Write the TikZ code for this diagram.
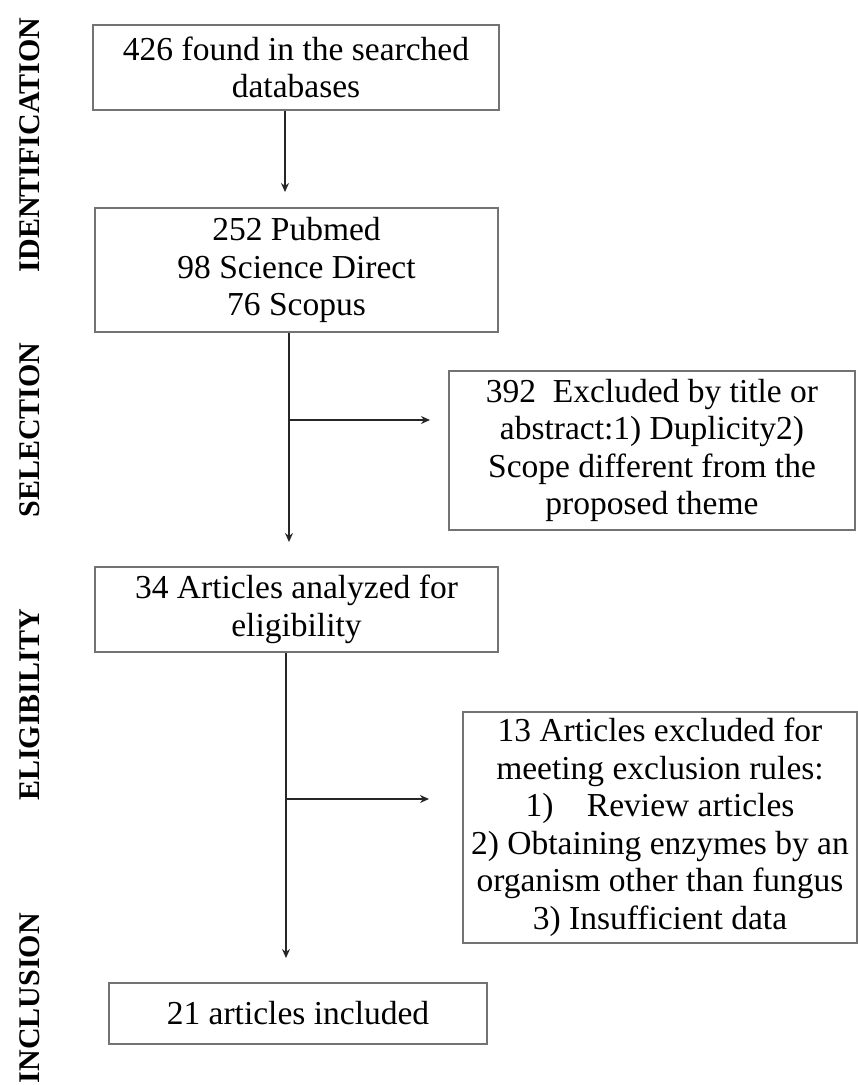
\documentclass[tikz,border=0pt]{standalone}
\usepackage{fontspec}
\setmainfont{Liberation Serif}
\usetikzlibrary{arrows.meta}
\begin{document}
\begin{tikzpicture}[x=1pt,y=-1pt,
  box/.style={draw=black!55,line width=1.3pt,align=center,inner sep=0pt,font=\fontsize{33.5}{37.5}\selectfont},
  stage/.style={rotate=90,inner sep=0pt,font=\fontsize{30}{30}\selectfont\bfseries},
  link/.style={line width=1.4pt,black!85},
  arr/.style={link,-{Stealth[length=9pt,width=8pt]}}]
\useasboundingbox (0,0) rectangle (858,1085);
\node [stage] (id) at (30,145) {IDENTIFICATION};
\node [stage] (sel) at (30,430) {SELECTION};
\node [stage] (eli) at (30,705) {ELIGIBILITY};
\node [stage] (inc) at (30,998) {INCLUSION};
\node [box,minimum width=406pt,minimum height=85pt] (found) at (296,67.5) {426 found in the searched\\databases};
\node [box,minimum width=403pt,minimum height=124pt] (bases) at (296.5,270) {252 Pubmed\\98 Science Direct\\76 Scopus};
\node [box,minimum width=406pt,minimum height=159pt] (excl) at (652,450.5) {392\ \ Excluded by title or\\abstract:1) Duplicity2)\\Scope different from the\\proposed theme};
\node [box,minimum width=403pt,minimum height=85pt] (anal) at (296.5,609.5) {34 Articles analyzed for\\eligibility};
\node [box,minimum width=394pt,minimum height=231pt] (rules) at (660,827.5) {13 Articles excluded for\\meeting exclusion rules:\\1)\quad Review articles\\2) Obtaining enzymes by an\\organism other than fungus\\3) Insufficient data};
\node [box,minimum width=378pt,minimum height=61pt] (incl) at (298,1013.5) {21 articles included};
\coordinate (t1) at (285,192);
\coordinate (t2) at (289,542);
\coordinate (s1) at (430,420);
\coordinate (t3) at (286,958);
\coordinate (s2) at (429,799);
\draw [arr] (found.south -| t1) -- (t1);
\draw [arr] (bases.south -| t2) -- (t2);
\draw [arr] (t2 |- s1) -- (s1);
\draw [arr] (anal.south -| t3) -- (t3);
\draw [arr] (t3 |- s2) -- (s2);
\end{tikzpicture}
\end{document}
